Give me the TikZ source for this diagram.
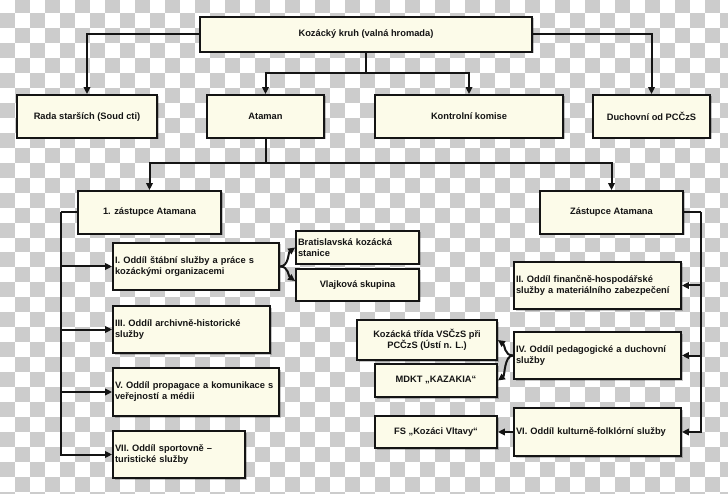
\documentclass[tikz,border=0pt]{standalone}
\usepackage{fontspec}
\setmainfont{Liberation Sans}
\usetikzlibrary{arrows.meta,shadows}
\definecolor{boxfill}{HTML}{FCFBE9}
\definecolor{checkgrey}{HTML}{CCCCCC}
\definecolor{ink}{HTML}{141414}
\begin{document}
\begin{tikzpicture}[x=1pt,y=-1pt,
  box/.style={draw=ink,line width=1.8pt,fill=boxfill,inner sep=2pt,
    drop shadow={shadow xshift=1.5pt,shadow yshift=-1.5pt,fill=black,opacity=0.22},
    font=\fontsize{9.3}{11}\selectfont\bfseries,text=ink},
  cbox/.style={box,align=center},
  lbox/.style={box,align=left},
  conn/.style={draw=ink,line width=2pt},
  arr/.style={conn,-{Triangle[length=7pt,width=6.5pt]}}]
% background (transparency checkerboard)
\useasboundingbox (0,0) rectangle (728,494);
\begin{scope}
\clip (0,0) rectangle (728,494);
\fill[white] (0,0) rectangle (728,494);
\foreach \c in {0,...,48}{\foreach \r in {0,...,33}{%
  \ifodd\numexpr\c+\r\relax
    \fill[checkgrey] (\c*15,\r*14.97-2) rectangle ++(15,14.97);
  \fi}}
\end{scope}
% boxes
\node[cbox,minimum width=332pt,minimum height=35pt] (top) at (366,34.5) {Kozácký kruh (valná hromada)};
\node[cbox,minimum width=140pt,minimum height=43pt] (rada) at (87,116.5) {Rada starších (Soud cti)};
\node[cbox,minimum width=117pt,minimum height=43pt] (ataman) at (265.5,116.5) {Ataman};
\node[cbox,minimum width=188pt,minimum height=43pt] (kontrol) at (469,116.5) {Kontrolní komise};
\node[cbox,minimum width=117pt,minimum height=43pt] (duch) at (651.5,116.5) {Duchovní od PCČzS};
\node[cbox,minimum width=143pt,minimum height=43pt] (z1) at (149.5,212.5) {1. zástupce Atamana};
\node[cbox,minimum width=143pt,minimum height=43pt] (z2) at (611.5,212.5) {Zástupce Atamana};
\node[lbox,text width=162pt,minimum height=47pt] (o1) at (196,266.5) {I. Oddíl štábní služby a práce s\\kozáckými organizacemi};
\node[lbox,text width=153pt,minimum height=47pt] (o3) at (191.5,329.5) {III. Oddíl archivně-historické\\služby};
\node[lbox,text width=162pt,minimum height=48pt] (o5) at (196,392) {V. Oddíl propagace a komunikace s\\veřejností a médii};
\node[lbox,text width=128pt,minimum height=47pt] (o7) at (179,454.5) {VII. Oddíl sportovně –\\turistické služby};
\node[lbox,text width=119pt,minimum height=33pt] (brat) at (357.5,247.5) {Bratislavská kozácká\\stanice};
\node[cbox,minimum width=123pt,minimum height=32pt] (vlaj) at (357.5,285) {Vlajková skupina};
\node[lbox,text width=163pt,minimum height=47pt] (o2) at (597.5,285.5) {II. Oddíl finančně-hospodářské\\služby a materiálního zabezpečení};
\node[lbox,text width=163pt,minimum height=47pt] (o4) at (597.5,355.5) {IV. Oddíl pedagogické a duchovní\\služby};
\node[lbox,text width=163pt,minimum height=48pt] (o6) at (597.5,432) {VI. Oddíl kulturně-folklórní služby};
\node[cbox,minimum width=140pt,minimum height=40pt] (koz) at (427,340) {Kozácká třída VSČzS při\\PCČzS (Ústí n. L.)};
\node[cbox,minimum width=122pt,minimum height=33pt] (mdkt) at (436,380.5) {MDKT „KAZAKIA“};
\node[cbox,minimum width=122pt,minimum height=32pt] (fs) at (436,432) {FS „Kozáci Vltavy“};
% junction coordinates
\coordinate (tj) at (366,73);
\coordinate (aj) at (265.5,163);
\coordinate (sl) at (61,212.5);
\coordinate (sr) at (701,212.5);
% connectors
\draw[arr] (top.west) -| (rada.north);
\draw[arr] (top.east) -| (duch.north);
\draw[conn] (top.south) -- (tj);
\draw[arr] (tj) -| (ataman.north);
\draw[arr] (tj) -| (kontrol.north);
\draw[conn] (ataman.south) -- (aj);
\draw[arr] (aj) -| (z1.north);
\draw[arr] (aj) -| (z2.north);
\draw[conn] (z1.west) -- (sl);
\draw[arr] (sl) |- (o1.west);
\draw[arr] (sl) |- (o3.west);
\draw[arr] (sl) |- (o5.west);
\draw[arr] (sl) |- (o7.west);
\draw[conn] (z2.east) -- (sr);
\draw[arr] (sr) |- (o2.east);
\draw[arr] (sr) |- (o4.east);
\draw[arr] (sr) |- (o6.east);
\draw[arr] (o1.east) .. controls +(9,0) and +(-7,5) .. (brat.west);
\draw[arr] (o1.east) .. controls +(9,0) and +(-7,-5) .. ([yshift=4pt]vlaj.west);
\draw[arr] (o4.west) .. controls +(-9,0) and +(7,5) .. (koz.east);
\draw[arr] (o4.west) .. controls +(-9,0) and +(7,-5) .. (mdkt.east);
\draw[arr] (o6.west) -- (fs.east);
\end{tikzpicture}
\end{document}
